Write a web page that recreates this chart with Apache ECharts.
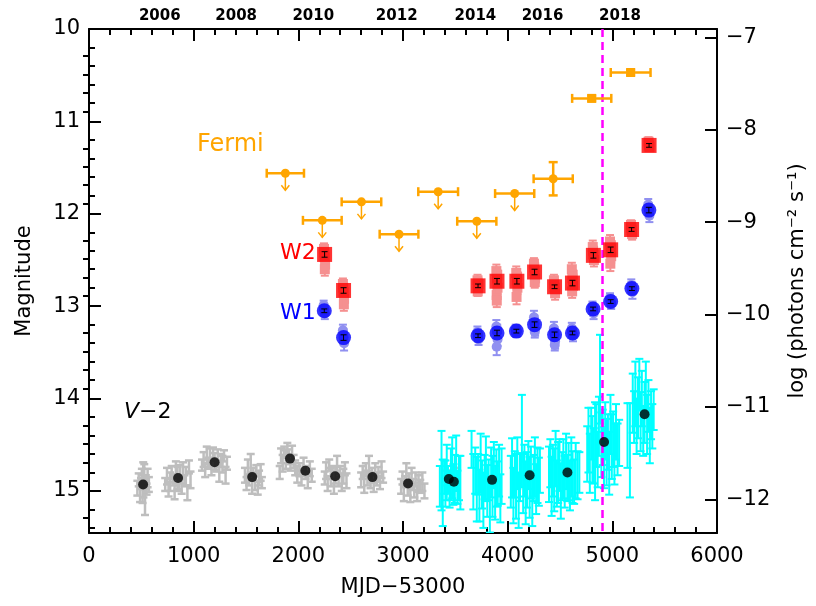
<!DOCTYPE html>
<html>
<head>
<meta charset="utf-8">
<script src="https://cdn.jsdelivr.net/npm/echarts@6/dist/echarts.min.js"></script>
<style>
  html, body { margin: 0; padding: 0; background: #fff; }
  #chart { width: 816px; height: 606px; }
</style>
</head>
<body>
<div id="chart"></div>
<script>
// ---- axis ticks and labels ----
const mjdTicks = [0, 1000, 2000, 3000, 4000, 5000, 6000];
const magTicks = [10, 11, 12, 13, 14, 15];
const fluxTicks = [-12, -11, -10, -9, -8, -7];
const yearLabels = ['2006', '2008', '2010', '2012', '2014', '2016', '2018'];
const yearMjd = [676, 1406, 2143, 2940, 3692, 4333, 5073];

// ---- V-band photometry, first data set [MJD-53000, mag, err] ----
const vSet1 = [
  [462,14.97,0.08],[475,14.88,0.07],[488,15.02,0.10],[497,14.92,0.06],[505,14.85,0.09],[512,15.05,0.08],[520,14.95,0.12],[528,14.80,0.09],[535,15.12,0.14],[543,14.90,0.07],[550,14.98,0.06],[560,14.86,0.10],[572,14.93,0.08],[518,14.78,0.09],
  [728,14.93,0.07],[745,14.84,0.09],[760,14.98,0.08],[775,14.90,0.10],[790,14.80,0.07],[805,14.88,0.06],[818,15.00,0.09],[830,14.76,0.08],[845,14.86,0.12],[858,14.93,0.07],[870,14.82,0.10],[885,14.95,0.08],[898,14.78,0.09],[912,14.89,0.06],[925,14.84,0.10],[940,15.02,0.08],[955,14.74,0.07],[970,14.88,0.09],
  [1080,14.72,0.06],[1095,14.66,0.08],[1110,14.78,0.07],[1125,14.61,0.09],[1140,14.70,0.06],[1155,14.64,0.10],[1170,14.75,0.08],[1185,14.60,0.07],[1200,14.68,0.09],[1215,14.73,0.06],[1230,14.63,0.08],[1245,14.80,0.10],[1260,14.67,0.07],[1275,14.71,0.09],[1290,14.62,0.06],[1305,14.83,0.09],[1318,14.70,0.07],
  [1490,14.83,0.08],[1505,14.92,0.07],[1518,14.75,0.09],[1530,14.88,0.06],[1545,14.70,0.10],[1558,14.95,0.08],[1570,14.82,0.07],[1585,14.90,0.09],[1598,14.78,0.06],[1612,14.97,0.07],[1625,14.86,0.08],[1640,14.80,0.09],[1652,14.91,0.06],
  [1822,14.80,0.07],[1835,14.62,0.08],[1850,14.70,0.09],[1865,14.58,0.06],[1880,14.66,0.10],[1895,14.55,0.07],[1910,14.63,0.08],[1925,14.72,0.06],[1940,14.60,0.09],[1955,14.68,0.07],[1970,14.75,0.08],[1990,14.82,0.09],[2010,14.77,0.07],[2030,14.86,0.08],[2050,14.74,0.10],[2070,14.80,0.07],[2090,14.88,0.09],[2110,14.76,0.08],[2128,14.83,0.07],
  [2252,14.86,0.07],[2265,14.78,0.09],[2280,14.92,0.08],[2295,14.72,0.06],[2310,14.85,0.10],[2325,14.80,0.07],[2340,14.95,0.08],[2355,14.83,0.09],[2370,14.70,0.08],[2385,14.88,0.07],[2400,14.79,0.06],[2415,14.91,0.09],[2430,14.84,0.08],[2445,14.76,0.07],[2460,14.89,0.08],
  [2600,14.88,0.08],[2615,14.80,0.07],[2630,14.93,0.09],[2645,14.76,0.06],[2660,14.86,0.08],[2675,14.72,0.10],[2690,14.90,0.07],[2705,14.83,0.08],[2720,14.95,0.06],[2735,14.79,0.09],[2750,14.87,0.07],[2765,14.82,0.08],[2780,14.91,0.07],[2795,14.77,0.09],[2810,14.85,0.06],
  [2982,14.95,0.08],[2995,14.86,0.07],[3008,15.02,0.09],[3020,14.90,0.06],[3032,14.80,0.10],[3045,14.97,0.08],[3058,14.88,0.07],[3070,15.04,0.08],[3082,14.84,0.09],[3095,14.93,0.06],[3108,14.99,0.08],[3120,14.87,0.07],[3135,15.03,0.08],[3148,14.92,0.09],[3165,14.95,0.07],[3185,14.90,0.10],[3205,15.00,0.08],
  [3420,14.86,0.08],[3455,14.90,0.07],[3490,14.84,0.09]
];

// ---- V-band photometry, second data set [MJD-53000, mag, err] ----
const vSet2 = [
  [3352,14.95,0.22],[3368,14.78,0.43],[3380,15.02,0.36],[3395,14.85,0.18],[3405,14.92,0.25],[3418,14.80,0.30],[3430,14.88,0.15],[3445,14.98,0.20],[3458,14.82,0.28],[3470,14.75,0.33],[3482,14.93,0.22],[3495,14.87,0.26],[3508,14.70,0.30],[3520,14.96,0.18],[3535,14.86,0.24],[3548,14.91,0.29],
  [3655,14.55,0.20],[3672,14.90,0.30],[3690,14.78,0.25],[3705,14.98,0.35],[3718,14.82,0.22],[3730,15.05,0.28],[3742,14.70,0.32],[3755,14.93,0.26],[3768,15.10,0.30],[3780,14.85,0.24],[3792,14.76,0.35],[3805,15.00,0.28],[3818,14.88,0.22],[3830,15.15,0.30],[3842,14.80,0.27],[3855,14.95,0.33],[3868,14.72,0.25],[3880,15.02,0.29],[3892,14.86,0.31],[3905,14.92,0.24],[3918,14.78,0.28],[3930,15.08,0.26],[3942,14.84,0.30],
  [4030,14.90,0.28],[4042,14.75,0.32],[4055,15.05,0.30],[4068,14.82,0.25],[4080,14.95,0.35],[4092,14.70,0.28],[4105,15.10,0.30],[4118,14.85,0.26],[4136,14.46,0.50],[4148,14.92,0.32],[4160,14.78,0.28],[4172,15.02,0.34],[4185,14.88,0.30],[4198,14.72,0.26],[4210,14.96,0.33],[4222,14.80,0.28],[4235,15.08,0.30],[4248,14.86,0.25],[4260,14.74,0.32],[4272,14.98,0.27],[4285,14.83,0.30],[4298,14.90,0.26],[4308,14.78,0.24],
  [4395,14.82,0.30],[4408,14.70,0.26],[4420,14.95,0.32],[4432,14.78,0.28],[4445,14.88,0.34],[4458,14.65,0.30],[4470,14.92,0.25],[4482,14.80,0.33],[4495,14.72,0.28],[4508,15.00,0.30],[4520,14.84,0.26],[4532,14.76,0.32],[4545,14.90,0.28],[4558,14.68,0.30],[4570,14.86,0.25],[4582,14.79,0.31],[4595,14.94,0.27],[4608,14.74,0.32],[4620,14.85,0.28],[4635,14.90,0.24],[4650,14.78,0.30],[4668,14.83,0.26],[4685,14.80,0.22],
  [4760,14.60,0.30],[4772,14.45,0.35],[4785,14.70,0.32],[4798,14.38,0.28],[4810,14.55,0.36],[4822,14.62,0.30],[4835,14.57,0.53],[4848,14.40,0.34],[4860,14.66,0.30],[4872,14.30,0.32],[4882,13.79,0.48],[4895,14.50,0.35],[4908,14.42,0.30],[4920,14.64,0.33],[4932,14.35,0.31],[4945,14.58,0.36],[4958,14.47,0.30],[4970,14.70,0.34],[4982,14.28,0.32],[4995,14.52,0.35],[5008,14.44,0.30],[5020,14.60,0.33],[5035,14.36,0.30],[5050,14.55,0.28],[5065,14.48,0.25],
  [5145,14.40,0.35],[5168,14.56,0.51],[5195,14.05,0.32],[5208,14.20,0.28],[5220,13.95,0.35],[5232,14.30,0.30],[5245,14.10,0.33],[5258,13.85,0.28],[5270,14.25,0.32],[5282,14.00,0.30],[5295,14.35,0.27],[5308,14.15,0.33],[5320,13.90,0.30],[5332,14.28,0.32],[5345,14.08,0.28],[5358,14.40,0.30],[5370,14.18,0.26],[5382,14.30,0.24],[5395,14.12,0.22]
];

// ---- seasonal V-band means (V-2) ----
const vMeanMjd = [517, 851, 1200, 1559, 1920, 2067, 2352, 2708, 3048, 3438, 3486, 3851, 4210, 4571, 4921, 5308];
const vMeanMag = [14.93, 14.86, 14.69, 14.85, 14.65, 14.78, 14.84, 14.85, 14.92, 14.87, 14.90, 14.88, 14.83, 14.80, 14.47, 14.17];

// ---- W2 individual exposures [MJD-53000, mag, err] ----
const w2Single = [
  [2245,12.38,0.06],[2251,12.47,0.07],[2256,12.55,0.08],[2248,12.42,0.05],[2253,12.60,0.07],
  [2426,12.76,0.06],[2432,12.85,0.07],[2437,12.92,0.08],[2429,12.80,0.05],[2435,12.98,0.07],
  [3712,12.72,0.06],[3717,12.80,0.05],[3721,12.76,0.06],[3714,12.84,0.05],
  [3892,12.62,0.07],[3898,12.70,0.06],[3903,12.80,0.07],[3895,12.88,0.08],[3900,12.66,0.05],[3896,12.94,0.07],
  [4082,12.64,0.07],[4088,12.72,0.06],[4093,12.80,0.07],[4085,12.90,0.08],[4090,12.68,0.05],
  [4251,12.54,0.06],[4257,12.62,0.05],[4262,12.70,0.07],[4254,12.58,0.06],[4259,12.74,0.06],
  [4442,12.72,0.06],[4448,12.80,0.05],[4453,12.86,0.07],[4445,12.76,0.05],
  [4613,12.60,0.07],[4619,12.70,0.06],[4624,12.78,0.07],[4616,12.84,0.07],[4621,12.66,0.05],
  [4813,12.36,0.07],[4819,12.44,0.06],[4824,12.50,0.07],[4816,12.40,0.05],
  [4978,12.30,0.07],[4984,12.38,0.06],[4989,12.46,0.07],[4981,12.54,0.08],[4986,12.34,0.05],
  [5178,12.12,0.05],[5184,12.18,0.06],[5189,12.22,0.06],[5181,12.15,0.05],
  [5346,11.22,0.05],[5351,11.26,0.05],[5355,11.28,0.04]
];

// ---- W1 individual exposures [MJD-53000, mag, err] ----
const w1Single = [
  [2242,12.99,0.05],[2248,13.04,0.06],[2253,13.08,0.06],[2245,13.02,0.05],
  [2426,13.26,0.06],[2432,13.34,0.07],[2437,13.40,0.08],[2429,13.30,0.05],
  [3711,13.28,0.06],[3717,13.33,0.05],[3722,13.36,0.06],[3714,13.30,0.05],
  [3892,13.22,0.07],[3898,13.28,0.06],[3903,13.36,0.07],[3895,13.44,0.09],[3900,13.25,0.05],
  [4077,13.25,0.05],[4083,13.28,0.05],[4088,13.27,0.06],[4080,13.29,0.04],
  [4251,13.12,0.07],[4257,13.19,0.06],[4262,13.25,0.07],[4254,13.16,0.06],[4259,13.28,0.06],
  [4442,13.24,0.07],[4448,13.31,0.06],[4453,13.38,0.08],[4445,13.28,0.05],[4450,13.42,0.06],
  [4613,13.24,0.06],[4619,13.29,0.05],[4624,13.32,0.06],[4616,13.27,0.05],
  [4810,13.00,0.05],[4816,13.04,0.06],[4821,13.08,0.06],[4813,13.02,0.05],
  [4978,12.91,0.05],[4984,12.95,0.05],[4989,12.97,0.06],[4981,12.93,0.04],
  [5181,12.77,0.06],[5187,12.81,0.05],[5192,12.85,0.07],[5184,12.79,0.05],
  [5343,11.90,0.06],[5349,11.96,0.06],[5354,12.02,0.07],[5346,11.94,0.05]
];

// ---- epoch means ----
const w2MeanMjd = [2251, 2432, 3717, 3898, 4088, 4257, 4448, 4619, 4819, 4984, 5184, 5351];
const w2MeanMag = [12.44, 12.83, 12.78, 12.73, 12.73, 12.63, 12.79, 12.75, 12.45, 12.39, 12.17, 11.26];
const w2MeanErr = [0.03, 0.03, 0.02, 0.03, 0.03, 0.03, 0.02, 0.03, 0.03, 0.03, 0.02, 0.02];
const w1MeanMjd = [2248, 2432, 3717, 3898, 4083, 4257, 4448, 4619, 4816, 4984, 5187, 5349];
const w1MeanMag = [13.05, 13.34, 13.32, 13.29, 13.27, 13.20, 13.31, 13.29, 13.03, 12.95, 12.81, 11.96];
const w1MeanErr = [0.02, 0.03, 0.02, 0.03, 0.02, 0.03, 0.03, 0.02, 0.02, 0.02, 0.02, 0.03];

// ---- Fermi-LAT fluxes, log(photons cm^-2 s^-1) ----
const fermiMjd = [1876, 2229, 2603, 2962, 3336, 3705, 4067, 4435, 4803, 5175];
const fermiLogF = [-8.47, -8.98, -8.78, -9.13, -8.67, -8.99, -8.69, -8.53, -7.66, -7.38];
const fermiBinHalf = [178, 185, 189, 185, 190, 187, 187, 187, 187, 190];
const fermiErr = [0, 0, 0, 0, 0, 0, 0, 0.18, 0.03, 0.03];
const fermiUpperLimit = [1, 1, 1, 1, 1, 1, 1, 0, 0, 0];
const fermiSquare = [0, 0, 0, 0, 0, 0, 0, 0, 1, 1];

const flareMjd = 4905;

// ---- axis ranges ----
const magRange = [10, 15.455];
const fluxRange = [-12.364, -6.909];

function minorBetween(majors, step, lo, hi) {
  const out = [];
  for (let v = lo; v <= hi + 1e-9; v += step) {
    const r = Math.round(v * 10) / 10;
    if (!majors.some(m => Math.abs(m - r) < 1e-6)) out.push(r);
  }
  return out;
}
const magMinor = minorBetween(magTicks, 0.2, 10.2, 15.4);
const fluxMinor = minorBetween(fluxTicks, 0.2, -12.2, -7.0);

const AX = '#000';
const FONT = '"DejaVu Sans", "Liberation Sans", sans-serif';
const tickFont = { color: '#000', fontSize: 21, fontFamily: FONT };
const titleFont = { color: '#000', fontSize: 21, fontFamily: FONT };

// vertical error bar with caps, optional centre marker
function vBar(color, lw, cap, marker, msize) {
  return function (params, api) {
    const x = api.value(0), y = api.value(1), e = api.value(2);
    const a = api.coord([x, y - e]), b = api.coord([x, y + e]), c = api.coord([x, y]);
    const st = { stroke: color, lineWidth: lw };
    const kids = [
      { type: 'line', shape: { x1: a[0], y1: a[1], x2: b[0], y2: b[1] }, style: st },
      { type: 'line', shape: { x1: a[0] - cap, y1: a[1], x2: a[0] + cap, y2: a[1] }, style: st },
      { type: 'line', shape: { x1: b[0] - cap, y1: b[1], x2: b[0] + cap, y2: b[1] }, style: st }
    ];
    if (marker === 'rect') {
      kids.unshift({ type: 'rect', shape: { x: c[0] - msize / 2, y: c[1] - msize / 2, width: msize, height: msize }, style: { fill: color } });
    } else if (marker === 'circle') {
      kids.unshift({ type: 'circle', shape: { cx: c[0], cy: c[1], r: msize / 2 }, style: { fill: color } });
    }
    return { type: 'group', children: kids };
  };
}

// Fermi bins: horizontal bin width, optional flux error, upper-limit arrow
function fermiItem(params, api) {
  const x = api.value(0), y = api.value(1), hw = api.value(2), ey = api.value(3);
  const ul = api.value(4), sq = api.value(5);
  const col = '#FFA500';
  const st = { stroke: col, lineWidth: 2.5 };
  const c = api.coord([x, y]);
  const l = api.coord([x - hw, y]), r = api.coord([x + hw, y]);
  const kids = [
    { type: 'line', shape: { x1: l[0], y1: l[1], x2: r[0], y2: r[1] }, style: st },
    { type: 'line', shape: { x1: l[0], y1: l[1] - 4.5, x2: l[0], y2: l[1] + 4.5 }, style: st },
    { type: 'line', shape: { x1: r[0], y1: r[1] - 4.5, x2: r[0], y2: r[1] + 4.5 }, style: st }
  ];
  if (ey > 0) {
    const t = api.coord([x, y + ey]), b = api.coord([x, y - ey]);
    kids.push({ type: 'line', shape: { x1: t[0], y1: t[1], x2: b[0], y2: b[1] }, style: st });
    kids.push({ type: 'line', shape: { x1: t[0] - 4.5, y1: t[1], x2: t[0] + 4.5, y2: t[1] }, style: st });
    kids.push({ type: 'line', shape: { x1: b[0] - 4.5, y1: b[1], x2: b[0] + 4.5, y2: b[1] }, style: st });
  }
  if (ul) {
    const ast = { stroke: col, lineWidth: 1.5, fill: null };
    kids.push({ type: 'line', shape: { x1: c[0], y1: c[1], x2: c[0], y2: c[1] + 17 }, style: ast });
    kids.push({ type: 'polyline', shape: { points: [[c[0] - 4, c[1] + 12], [c[0], c[1] + 17], [c[0] + 4, c[1] + 12]] }, style: ast });
  }
  if (sq) {
    kids.push({ type: 'rect', shape: { x: c[0] - 4.5, y: c[1] - 4.5, width: 9, height: 9 }, style: { fill: col } });
  } else {
    kids.push({ type: 'circle', shape: { cx: c[0], cy: c[1], r: 4.5 }, style: { fill: col } });
  }
  return { type: 'group', children: kids };
}

const fermiData = fermiMjd.map((m, i) => [m, fermiLogF[i], fermiBinHalf[i], fermiErr[i], fermiUpperLimit[i], fermiSquare[i]]);
const vMean = vMeanMjd.map((m, i) => [m, vMeanMag[i]]);
const w2Mean = w2MeanMjd.map((m, i) => [m, w2MeanMag[i], w2MeanErr[i]]);
const w1Mean = w1MeanMjd.map((m, i) => [m, w1MeanMag[i], w1MeanErr[i]]);

function mjdAxis(position, labels) {
  return {
    type: 'value', position: position, min: 0, max: 6000, interval: 1000,
    axisLine: { show: true, onZero: false, lineStyle: { color: AX, width: 2 } },
    axisTick: { show: true, inside: true, length: 12, lineStyle: { color: AX, width: 2 } },
    minorTick: { show: true, splitNumber: 5, length: 6, lineStyle: { color: AX, width: 2 } },
    axisLabel: labels ? Object.assign({ margin: 13, formatter: v => mjdTicks.includes(v) ? String(v) : '' }, tickFont) : { show: false },
    splitLine: { show: false }, minorSplitLine: { show: false },
    name: labels ? 'MJD\u221253000' : '', nameLocation: 'middle', nameGap: 44,
    nameTextStyle: titleFont
  };
}

function yMajor(position, range, ticks, inverse, fmt, name, gap) {
  return {
    type: 'value', position: position, min: range[0], max: range[1], inverse: inverse,
    axisLine: { show: true, onZero: false, lineStyle: { color: AX, width: 2 } },
    axisTick: { show: true, inside: true, length: 12, customValues: ticks, lineStyle: { color: AX, width: 2 } },
    axisLabel: Object.assign({ customValues: ticks, formatter: fmt, margin: 9 }, tickFont),
    splitLine: { show: false },
    name: name, nameLocation: 'middle', nameGap: gap, nameRotate: 90,
    nameTextStyle: titleFont
  };
}
function yMinor(position, range, ticks, inverse) {
  return {
    type: 'value', position: position, min: range[0], max: range[1], inverse: inverse,
    axisLine: { show: false },
    axisTick: { show: true, inside: true, length: 6, customValues: ticks, lineStyle: { color: AX, width: 2 } },
    axisLabel: { show: false },
    splitLine: { show: false }
  };
}

const chart = echarts.init(document.getElementById('chart'), null, { renderer: 'canvas' });
chart.setOption({
  backgroundColor: '#fff',
  animation: false,
  grid: { left: 89, right: 97, top: 29, bottom: 73, containLabel: false },
  xAxis: [
    mjdAxis('bottom', true),
    mjdAxis('top', false),
    {
      type: 'value', position: 'top', min: 0, max: 6000,
      axisLine: { show: false }, axisTick: { show: false }, splitLine: { show: false },
      axisLabel: {
        customValues: yearMjd, margin: 5,
        formatter: v => yearLabels[yearMjd.indexOf(v)] || '',
        color: '#000', fontSize: 15, fontWeight: 'bold', fontFamily: FONT
      }
    }
  ],
  yAxis: [
    yMajor('left', magRange, magTicks, true, v => String(v), 'Magnitude', 54),
    yMinor('left', magRange, magMinor, true),
    yMajor('right', fluxRange, fluxTicks, false, v => '\u2212' + Math.abs(v), 'log (photons cm\u207B\u00B2 s\u207B\u00B9)', 70),
    yMinor('right', fluxRange, fluxMinor, false)
  ],
  graphic: [
    { type: 'text', left: 197, top: 133, style: { text: 'Fermi', fill: '#FFA500', font: '24px "DejaVu Sans", sans-serif' } },
    { type: 'text', left: 280, top: 242, style: { text: 'W2', fill: '#FF0000', font: '22px "DejaVu Sans", sans-serif' } },
    { type: 'text', left: 280, top: 302, style: { text: 'W1', fill: '#0000FF', font: '22px "DejaVu Sans", sans-serif' } },
    { type: 'text', left: 124, top: 401, style: {
        text: '{i|V}{n|\u22122}', fill: '#000',
        rich: {
          i: { font: 'italic 22px "DejaVu Sans", sans-serif', fill: '#000' },
          n: { font: '22px "DejaVu Sans", sans-serif', fill: '#000' }
        }
      } }
  ],
  series: [
    {
      name: 'V set 1', type: 'custom', xAxisIndex: 0, yAxisIndex: 0, clip: true,
      renderItem: vBar('#BEBEBE', 2.5, 4, null, 0), data: vSet1, z: 2
    },
    {
      name: 'V set 2', type: 'custom', xAxisIndex: 0, yAxisIndex: 0, clip: true,
      renderItem: vBar('#00FFFF', 2, 4, null, 0), data: vSet2, z: 3
    },
    {
      name: 'W2 single', type: 'custom', xAxisIndex: 0, yAxisIndex: 0, clip: true,
      renderItem: vBar('#F59090', 2, 4, 'rect', 10), data: w2Single, z: 4
    },
    {
      name: 'W1 single', type: 'custom', xAxisIndex: 0, yAxisIndex: 0, clip: true,
      renderItem: vBar('#9090F0', 2, 4, 'circle', 10), data: w1Single, z: 4
    },
    {
      name: 'W2', type: 'scatter', xAxisIndex: 0, yAxisIndex: 0, symbol: 'rect', symbolSize: 15,
      itemStyle: { color: '#FF0000' }, data: w2Mean.map(d => [d[0], d[1]]), z: 5
    },
    {
      name: 'W2 err', type: 'custom', xAxisIndex: 0, yAxisIndex: 0,
      renderItem: vBar('#000', 1, 3, null, 0), data: w2Mean, z: 6
    },
    {
      name: 'W1', type: 'scatter', xAxisIndex: 0, yAxisIndex: 0, symbol: 'circle', symbolSize: 15,
      itemStyle: { color: '#0000FF' }, data: w1Mean.map(d => [d[0], d[1]]), z: 5
    },
    {
      name: 'W1 err', type: 'custom', xAxisIndex: 0, yAxisIndex: 0,
      renderItem: vBar('#000', 1, 3, null, 0), data: w1Mean, z: 6
    },
    {
      name: 'V-2', type: 'scatter', xAxisIndex: 0, yAxisIndex: 0, symbol: 'circle', symbolSize: 10,
      itemStyle: { color: '#000' }, data: vMean, z: 7,
      markLine: {
        silent: true, symbol: ['none', 'none'], label: { show: false },
        lineStyle: { color: '#FF00FF', width: 2.5, type: [8, 5] },
        data: [{ xAxis: flareMjd }]
      }
    },
    {
      name: 'Fermi', type: 'custom', xAxisIndex: 0, yAxisIndex: 2, clip: false,
      renderItem: fermiItem, data: fermiData, z: 8
    }
  ]
});
</script>
</body>
</html>
